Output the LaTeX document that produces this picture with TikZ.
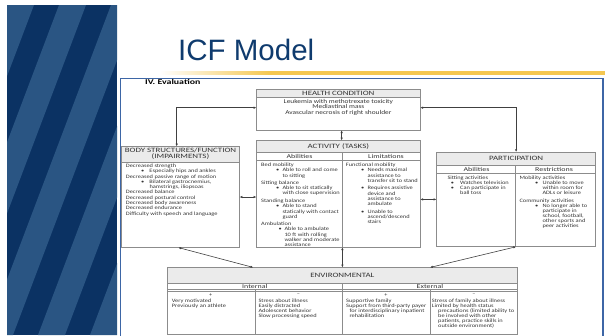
\documentclass[tikz,border=0pt]{standalone}
\usepackage{fontspec}
\setmainfont{Carlito}[FakeStretch=1.25]
\newfontfamily\hdrfont{Carlito}[FakeStretch=1.35]
\newfontfamily\titlefont{Liberation Sans}
\usetikzlibrary{arrows.meta}
\definecolor{panel}{HTML}{0B3263}
\definecolor{stripe}{HTML}{2A5583}
\definecolor{titleblue}{HTML}{0F3B6E}
\definecolor{gold}{HTML}{F4C751}
\definecolor{frameblue}{HTML}{3D66A6}
\definecolor{hdrgray}{HTML}{EBEBEB}
\definecolor{boxline}{HTML}{8C8C8C}
\definecolor{ink}{HTML}{333333}
\newcommand{\icfb}[2]{\hspace*{#1pt}\makebox[#2pt][l]{\textbullet}}
\tikzset{
  box/.style={draw=boxline, line width=0.5pt, rectangle, inner sep=0pt},
  txt/.style={inner sep=0pt, align=left, anchor=north west, text=ink, font=\fontsize{5.1}{5.3}\selectfont},
  envtxt/.style={txt, font=\fontsize{5.1}{5.1}\selectfont},
  hdr/.style={inner sep=0pt, align=center, text=ink, font=\hdrfont\fontsize{6.6}{5.7}\selectfont},
  subhdr/.style={inner sep=0pt, align=center, text=ink, font=\hdrfont\fontsize{5.9}{5.9}\selectfont},
  sign/.style={inner sep=0pt, text=ink, font=\fontsize{5}{5}\selectfont},
  arr/.style={{Latex[length=2.8pt,width=2.4pt]}-{Latex[length=2.8pt,width=2.4pt]}, line width=0.6pt, draw=black!75},
  rule/.style={draw=boxline, line width=0.5pt}
}
\begin{document}
\begin{tikzpicture}[x=1pt,y=-1pt]
\useasboundingbox (0,0) rectangle (605,335);
% left decorative panel
\fill[panel] (7,5) rectangle (117,335);
\begin{scope}
\clip (7,5) rectangle (117,335);
\foreach \a in {7,59,111,163,215,267}{
  \fill[stripe] (\a,5) -- (\a+27,5) -- (\a+27-125,335) -- (\a-125,335) -- cycle;
}
\end{scope}
% title and gold rule
\node[anchor=base west, inner sep=0pt, text=titleblue, font=\titlefont\fontsize{29.5}{29.5}\selectfont] (title) at (178,60) {ICF Model};
\shade[left color=white, right color=gold] (160,71.2) rectangle (270,74.8);
\fill[gold] (270,71.2) rectangle (605,74.8);
% frame of embedded figure
\draw[frameblue, line width=1.5pt] (120.5,336) -- (120.5,78.5) -- (603,78.5) -- (603,336);
\node[anchor=base west, inner sep=0pt, text=black, font=\hdrfont\bfseries\fontsize{7.3}{7.3}\selectfont] (eval) at (145,84.5) {IV. Evaluation};
% header fills
\fill[hdrgray] (256.7,89) rectangle (420,97.7);
\fill[hdrgray] (256.7,140.7) rectangle (420,152.3);
\fill[hdrgray] (121.7,146.7) rectangle (239.3,162.7);
\fill[hdrgray] (436.7,152.3) rectangle (595.5,165);
\fill[hdrgray] (167.3,267.7) rectangle (517.5,283.3);
% boxes
\node[box, minimum width=163.3pt, minimum height=41pt] (health) at (338.35,109.5) {};
\node[box, minimum width=163.3pt, minimum height=106.3pt] (act) at (338.35,193.85) {};
\node[box, minimum width=117.6pt, minimum height=100.6pt] (body) at (180.5,197) {};
\node[box, minimum width=158.8pt, minimum height=94.2pt] (part) at (516.1,199.4) {};
\node[box, minimum width=350.2pt, minimum height=66.3pt] (env) at (342.4,300.85) {};
% inner rules
\draw[rule] (256.7,97.7) -- (420,97.7);
\draw[rule] (256.7,152.3) -- (420,152.3);
\draw[rule] (256.7,160.7) -- (420,160.7);
\draw[rule] (342.3,152.3) -- (342.3,247);
\draw[rule] (121.7,162.7) -- (239.3,162.7);
\draw[rule] (436.7,165) -- (595.5,165);
\draw[rule] (436.7,173) -- (595.5,173);
\draw[rule] (515.7,165) -- (515.7,246.5);
\draw[rule] (167.3,283.3) -- (517.5,283.3);
\draw[rule] (167.3,289.3) -- (517.5,289.3);
\draw[rule] (167.3,291.5) -- (517.5,291.5);
\draw[rule] (342.4,283.3) -- (342.4,334);
\draw[rule] (254.8,289.3) -- (254.8,334);
\draw[rule] (430,289.3) -- (430,334);
% headers
\node[hdr] (hhdr) at (338.35,93.4) {HEALTH CONDITION};
\node[hdr] (ahdr) at (338.35,146.5) {ACTIVITY (TASKS)};
\node[hdr] (bhdr) at (180.5,154) {BODY STRUCTURES/FUNCTION\\(IMPAIRMENTS)};
\node[hdr] (phdr) at (516.1,158.6) {PARTICIPATION};
\node[hdr] (ehdr) at (342.4,275.5) {ENVIRONMENTAL};
\node[subhdr] (aab) at (299.5,156.5) {Abilities};
\node[subhdr] (alim) at (386,156.5) {Limitations};
\node[subhdr] (pab) at (476.5,169.2) {Abilities};
\node[subhdr] (pres) at (554,169.2) {Restrictions};
\node[subhdr] (eint) at (254.8,286.3) {Internal};
\node[subhdr] (eext) at (430,286.3) {External};
% health text
\node[inner sep=0pt, align=center, anchor=north, text=ink, font=\fontsize{5.9}{5.5}\selectfont] (htxt) at (338.35,99) {Leukemia with methotrexate toxicity\\Mediastinal mass\\Avascular necrosis of right shoulder};
% body text
\node[txt] (btxt) at (125.7,163.7) {Decreased strength\\
\icfb{15.3}{8.3}Especially hips and ankles\\
Decreased passive range of motion\\
\icfb{15.3}{8.3}Bilateral gastrocnemius,\\
\hspace*{23.6pt}hamstrings, iliopsoas\\
Decreased balance\\
Decreased postural control\\
Decreased body awareness\\
Decreased endurance\\
Difficulty with speech and language};
% activity abilities
\node[txt] (aA1) at (261,162.7) {Bed mobility\\\icfb{15}{6.3}Able to roll and come\\\hspace*{21.3pt}to sitting};
\node[txt] (aA2) at (261,180.4) {Sitting balance\\\icfb{15}{6.3}Able to sit statically\\\hspace*{21.3pt}with close supervision};
\node[txt] (aA3) at (261,198.7) {Standing balance\\\icfb{15}{6.3}Able to stand\\\hspace*{21.3pt}statically with contact\\\hspace*{21.3pt}guard};
\node[txt] (aA4) at (261,221.7) {Ambulation\\\icfb{17.3}{6}Able to ambulate\\\hspace*{23.3pt}10 ft with rolling\\\hspace*{23.3pt}walker and moderate\\\hspace*{23.3pt}assistance};
% activity limitations
\node[txt] (aR1) at (345.7,162.7) {Functional mobility\\\icfb{15.3}{6.3}Needs maximal\\\hspace*{21.6pt}assistance to\\\hspace*{21.6pt}transfer sit to stand};
\node[txt] (aR2) at (345.7,186) {\icfb{15.3}{6.3}Requires assistive\\\hspace*{21.6pt}device and\\\hspace*{21.6pt}assistance to\\\hspace*{21.6pt}ambulate};
\node[txt] (aR3) at (345.7,209.4) {\icfb{15.3}{6.3}Unable to\\\hspace*{21.6pt}ascend/descend\\\hspace*{21.6pt}stairs};
% participation
\node[envtxt] (pL) at (447.3,175.4) {Sitting activities\\\icfb{3.4}{9.3}Watches television\\\icfb{3.4}{9.3}Can participate in\\\hspace*{12.7pt}ball toss};
\node[envtxt] (pR1) at (519.3,175.4) {Mobility activities\\\icfb{15.7}{7.3}Unable to move\\\hspace*{23pt}within room for\\\hspace*{23pt}ADLs or leisure};
\node[envtxt] (pR2) at (519.3,198.4) {Community activities\\\icfb{15.7}{7.3}No longer able to\\\hspace*{23pt}participate in\\\hspace*{23pt}school, football,\\\hspace*{23pt}other sports and\\\hspace*{23pt}peer activities};
% environmental
\node[sign] (eIp) at (210.8,295.3) {+};
\node[sign] (eIn) at (298.5,295) {–};
\node[sign] (eEp) at (386,295.3) {+};
\node[sign] (eEn) at (474,295) {–};
\node[envtxt] (eI1) at (171.7,298.4) {Very motivated\\Previously an athlete};
\node[envtxt] (eI2) at (258.3,298.4) {Stress about illness\\Easily distracted\\Adolescent behavior\\Slow processing speed};
\node[envtxt] (eE1) at (346,298.4) {Supportive family\\Support from third-party payer\\\hspace*{3.3pt}for interdisciplinary inpatient\\\hspace*{3.3pt}rehabilitation};
\node[envtxt] (eE2) at (431.7,298.4) {Stress of family about illness\\Limited by health status\\\hspace*{6.3pt}precautions (limited ability to\\\hspace*{6.3pt}be involved with other\\\hspace*{6.3pt}patients, practice skills in\\\hspace*{6.3pt}outside environment)};
% connectors
\draw[arr] ([yshift=1.8pt]health.west) -| ([xshift=-3.8pt]body.north);
\draw[arr] ([yshift=1.8pt]health.east) -| (part.north);
\draw[arr] ([xshift=3.3pt]health.south) -- ([xshift=3.3pt]health.south |- act.north);
\draw[arr] (body.east) -- (body.east -| act.west);
\draw[arr] (act.east |- part.west) -- (part.west);
\draw[arr] (act.south -| env.north) -- (env.north);
\draw[arr] ([xshift=-2.2pt]body.south) -- ([xshift=-89.1pt]env.north);
\draw[arr] ([xshift=87.6pt]env.north) -- (part.south);
\end{tikzpicture}
\end{document}
